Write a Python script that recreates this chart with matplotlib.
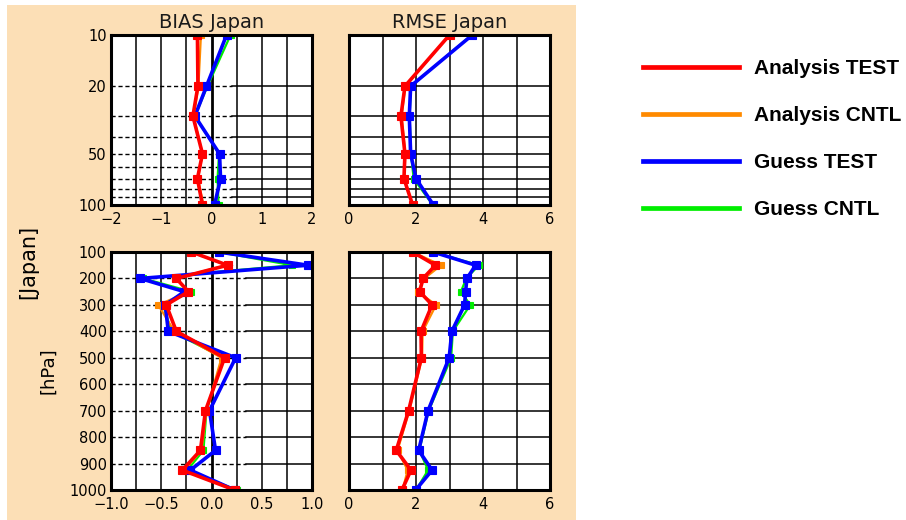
import matplotlib
matplotlib.use("Agg")
import matplotlib.pyplot as plt
from matplotlib.patches import Rectangle
from matplotlib.ticker import FixedLocator, NullLocator


#-------------- data --------------

series_names = ["Analysis TEST", "Analysis CNTL", "Guess TEST", "Guess CNTL"]

# upper levels (hPa)
levels_upper = [10, 20, 30, 50, 70, 100]
bias_up_ana_test = [-0.28, -0.27, -0.37, -0.18, -0.28, -0.18]
bias_up_ana_cntl = [-0.21, -0.26, -0.36, -0.18, -0.27, -0.16]
bias_up_ges_test = [0.30, -0.10, -0.33, 0.16, 0.18, 0.06]
bias_up_ges_cntl = [0.38, -0.08, -0.33, 0.15, 0.12, 0.14]

rmse_up_ana_test = [3.00, 1.67, 1.55, 1.67, 1.64, 1.90]
rmse_up_ana_cntl = [3.00, 1.68, 1.57, 1.68, 1.65, 1.90]
rmse_up_ges_test = [3.68, 1.84, 1.80, 1.84, 2.00, 2.52]
rmse_up_ges_cntl = [3.66, 1.85, 1.81, 1.85, 1.93, 2.50]

# lower levels (hPa)
levels_lower = [100, 150, 200, 250, 300, 400, 500, 700, 850, 925, 1000]
bias_lo_ana_test = [-0.20, 0.16, -0.35, -0.23, -0.45, -0.35, 0.13, -0.06, -0.11, -0.29, 0.23]
bias_lo_ana_cntl = [-0.20, 0.15, -0.36, -0.22, -0.53, -0.37, 0.10, -0.05, -0.10, -0.27, 0.24]
bias_lo_ges_test = [0.07, 0.96, -0.71, -0.27, -0.46, -0.43, 0.24, -0.02, 0.04, -0.21, 0.23]
bias_lo_ges_cntl = [0.07, 0.80, -0.68, -0.20, -0.48, -0.40, 0.12, -0.05, -0.08, -0.24, 0.25]

rmse_lo_ana_test = [1.90, 2.58, 2.21, 2.11, 2.48, 2.15, 2.16, 1.78, 1.41, 1.85, 1.58]
rmse_lo_ana_cntl = [1.90, 2.75, 2.25, 2.05, 2.60, 2.20, 2.18, 1.80, 1.45, 1.75, 1.60]
rmse_lo_ges_test = [2.51, 3.78, 3.52, 3.48, 3.45, 3.07, 2.99, 2.36, 2.08, 2.48, 1.99]
rmse_lo_ges_cntl = [2.50, 3.88, 3.50, 3.34, 3.62, 3.10, 3.05, 2.38, 2.10, 2.36, 2.00]

bias_up_ticks = [-2, -1, 0, 1, 2]
bias_lo_ticks = [-1.0, -0.5, 0.0, 0.5, 1.0]
bias_lo_ticklabels = ["\u22121.0", "\u22120.5", "0.0", "0.5", "1.0"]
rmse_ticks = [0, 2, 4, 6]
upper_yticks = [10, 20, 50, 100]
lower_yticks = [100, 200, 300, 400, 500, 600, 700, 800, 900, 1000]


#-------------- styling --------------

PEACH = "#fcdfb6"
COLORS = {"Analysis TEST": "#ff0000", "Analysis CNTL": "#ff8a00",
          "Guess TEST": "#0000ff", "Guess CNTL": "#00ee00"}
LW = {"Analysis TEST": 2.6, "Analysis CNTL": 1.6,
      "Guess TEST": 2.6, "Guess CNTL": 1.6}
# draw order: CNTL lines underneath, TEST on top, red last
ORDER = ["Guess CNTL", "Analysis CNTL", "Guess TEST", "Analysis TEST"]

W, H = 906, 520


def fig_rect(x0, y0, x1, y1):
    ''' pixel box (top-left origin) -> figure fraction rect '''
    return [x0 / W, 1 - y1 / H, (x1 - x0) / W, (y1 - y0) / H]


def draw_profiles(ax, levels, data):
    for name in ORDER:
        ax.plot(data[name], levels, color=COLORS[name], lw=LW[name],
                marker="s", ms=5.6 if "TEST" in name else 4.8,
                mec=COLORS[name], mew=0.8, solid_joinstyle="miter", zorder=4)


def style_axes(ax, xlim, ylim, xticks, xlabels):
    ax.set_xlim(*xlim)
    ax.set_ylim(*ylim)
    ax.set_xticks(xticks)
    ax.set_xticklabels(xlabels)
    ax.tick_params(length=0, labelsize=10.5, pad=5)
    ax.tick_params(axis="y", pad=3)
    for sp in ax.spines.values():
        sp.set_linewidth(2.2)
        sp.set_zorder(6)


fig = plt.figure(figsize=(W / 100, H / 100), dpi=100)
fig.patches.append(Rectangle((7 / W, 0), (576 - 7) / W, 1 - 5 / H,
                             transform=fig.transFigure, facecolor=PEACH,
                             edgecolor="none", zorder=-5))

ax_bu = fig.add_axes(fig_rect(111, 35, 312, 205))
ax_ru = fig.add_axes(fig_rect(349, 35, 550, 205))
ax_bl = fig.add_axes(fig_rect(111, 252, 312, 490))
ax_rl = fig.add_axes(fig_rect(349, 252, 550, 490))

upper_lines = [20, 30, 40, 50, 60, 70, 80, 90]
lower_lines = [200, 300, 400, 500, 600, 700, 800, 900]

# ---- BIAS upper
ax = ax_bu
ax.set_yscale("log")
style_axes(ax, (-2, 2), (100, 10), bias_up_ticks, [str(t).replace("-", "\u2212") for t in bias_up_ticks])
ax.yaxis.set_major_locator(FixedLocator(upper_yticks))
ax.yaxis.set_minor_locator(NullLocator())
ax.set_yticklabels([str(t) for t in upper_yticks])
for v in [-1.5, -1, -0.5, 0.5, 1, 1.5]:
    ax.axvline(v, color="k", lw=1.1, zorder=1)
ax.axvline(0, color="k", lw=2.0, zorder=1)
for p in upper_lines:
    ax.axhline(p, xmin=0, xmax=0.6, color="k", lw=1.0, ls=(0, (3, 2)), zorder=1)
    ax.axhline(p, xmin=0.6, xmax=1, color="k", lw=1.1, zorder=1)
draw_profiles(ax, levels_upper, dict(zip(series_names, [bias_up_ana_test, bias_up_ana_cntl, bias_up_ges_test, bias_up_ges_cntl])))
ax.set_title("BIAS Japan", fontsize=14, pad=5, color="#1a1a1a")

# ---- RMSE upper
ax = ax_ru
ax.set_yscale("log")
style_axes(ax, (0, 6), (100, 10), rmse_ticks, [str(t) for t in rmse_ticks])
ax.yaxis.set_major_locator(NullLocator())
ax.yaxis.set_minor_locator(NullLocator())
for v in [1, 2, 3, 4, 5]:
    ax.axvline(v, color="k", lw=1.1, zorder=1)
for p in upper_lines:
    ax.axhline(p, color="k", lw=1.1, zorder=1)
draw_profiles(ax, levels_upper, dict(zip(series_names, [rmse_up_ana_test, rmse_up_ana_cntl, rmse_up_ges_test, rmse_up_ges_cntl])))
ax.set_title("RMSE Japan", fontsize=14, pad=5, color="#1a1a1a")

# ---- BIAS lower
ax = ax_bl
style_axes(ax, (-1, 1), (1000, 100), bias_lo_ticks, bias_lo_ticklabels)
ax.set_yticks(lower_yticks)
ax.set_yticklabels([str(t) for t in lower_yticks])
for v in [-0.75, -0.5, -0.25, 0.25, 0.5, 0.75]:
    ax.axvline(v, color="k", lw=1.1, zorder=1)
ax.axvline(0, color="k", lw=2.0, zorder=1)
for p in lower_lines:
    ax.axhline(p, xmin=0, xmax=0.67, color="k", lw=1.0, ls=(0, (3, 2)), zorder=1)
    ax.axhline(p, xmin=0.67, xmax=1, color="k", lw=1.1, zorder=1)
draw_profiles(ax, levels_lower, dict(zip(series_names, [bias_lo_ana_test, bias_lo_ana_cntl, bias_lo_ges_test, bias_lo_ges_cntl])))

# ---- RMSE lower
ax = ax_rl
style_axes(ax, (0, 6), (1000, 100), rmse_ticks, [str(t) for t in rmse_ticks])
ax.set_yticks([])
for v in [1, 2, 3, 4, 5]:
    ax.axvline(v, color="k", lw=1.1, zorder=1)
for p in lower_lines:
    ax.axhline(p, color="k", lw=1.1, zorder=1)
draw_profiles(ax, levels_lower, dict(zip(series_names, [rmse_lo_ana_test, rmse_lo_ana_cntl, rmse_lo_ges_test, rmse_lo_ges_cntl])))

# ---- side labels
fig.text(28 / W, 1 - 262 / H, "[Japan]", rotation=90, ha="center", va="center", fontsize=15)
fig.text(48 / W, 1 - 371 / H, "[hPa]", rotation=90, ha="center", va="center", fontsize=13)

# ---- legend
handles = [plt.Line2D([], [], color=COLORS[n], lw=3.4) for n in series_names]
leg = fig.legend(handles, series_names, loc="upper left",
                 bbox_to_anchor=(643 / W, 1 - 59 / H), frameon=False,
                 borderpad=0, borderaxespad=0, handlelength=4.6,
                 handletextpad=0.75, labelspacing=1.35,
                 prop={"family": "Liberation Sans", "weight": "bold", "size": 15})

fig.savefig("out.png", dpi=100)
